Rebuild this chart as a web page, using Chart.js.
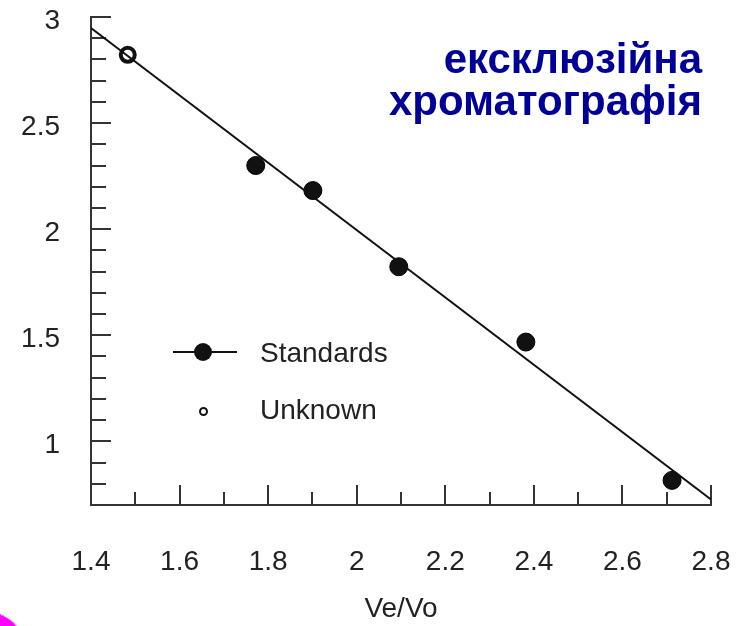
<!DOCTYPE html>
<html>
<head>
<meta charset="utf-8">
<script src="https://cdn.jsdelivr.net/npm/chart.js@4.4.1/dist/chart.umd.min.js"></script>
<style>
    body { margin: 0; background: #fff; }
    #wrap { position: relative; width: 741px; height: 626px; overflow: hidden; font-family: "Liberation Sans", Arial, sans-serif; }
    #title { position: absolute; right: 39px; top: 38px; text-align: right; font-weight: bold; font-size: 42px; line-height: 42px; color: #000096; }
    .leg { position: absolute; left: 260px; font-size: 28px; line-height: 1; color: #222; transform: translateY(-50%); }
    #legLine { position: absolute; left: 173px; top: 351px; width: 64px; height: 2px; background: #111; }
    #legDot { position: absolute; left: 194px; top: 343px; width: 18px; height: 18px; border-radius: 50%; background: #111; }
    #legOpen { position: absolute; left: 199px; top: 407px; width: 5px; height: 5px; border-radius: 50%; border: 2px solid #111; }
    #corner { position: absolute; left: -40px; top: 612px; width: 62px; height: 40px; border-radius: 50%; background: #ff00ff; transform: rotate(20deg); }
</style>
</head>
<body>
<div id="wrap">
    <canvas id="chart" width="741" height="626"></canvas>
    <div id="title">ексклюзійна<br>хроматографія</div>
    <div id="legLine"></div>
    <div id="legDot"></div>
    <div class="leg" style="top:353px">Standards</div>
    <div id="legOpen"></div>
    <div class="leg" style="top:410px">Unknown</div>
    <div id="corner"></div>
</div>
<script>
"use strict"

// Data
const standardsX = [1.772, 1.901, 2.095, 2.382, 2.712];
const standardsY = [2.30, 2.182, 1.823, 1.468, 0.816];
const unknownX = [1.483];
const unknownY = [2.822];
const fitX = [1.4, 2.8];
const fitY = [2.948, 0.726];

const xTicks = [1.4, 1.6, 1.8, 2.0, 2.2, 2.4, 2.6, 2.8];
const yTicks = [1, 1.5, 2, 2.5, 3];

function toPoints(xs, ys) {
    return xs.map((x, i) => ({ x: x, y: ys[i] }));
}

// Inward tick marks, drawn from the scales
const innerTicks = {
    id: 'innerTicks',
    beforeDatasetsDraw(chart) {
        const ctx = chart.ctx;
        const xs = chart.scales.x;
        const ys = chart.scales.y;
        const area = chart.chartArea;
        ctx.save();
        ctx.strokeStyle = '#333';
        ctx.lineWidth = 2;
        ctx.beginPath();
        // x: every 0.1, long every 0.2
        for (let i = 15; i <= 28; i++) {
            const px = Math.round(xs.getPixelForValue(i / 10));
            const len = (i % 2 === 0) ? 20 : 13;
            ctx.moveTo(px, area.bottom);
            ctx.lineTo(px, area.bottom - len);
        }
        // y: every 0.1, long every 0.5
        for (let i = 8; i <= 30; i++) {
            const py = Math.round(ys.getPixelForValue(i / 10));
            const len = (i % 5 === 0) ? 20 : 15;
            ctx.moveTo(area.left, py);
            ctx.lineTo(area.left + len, py);
        }
        ctx.stroke();
        ctx.restore();
    }
};

const font = { family: '"Liberation Sans", Arial, sans-serif', size: 28 };

new Chart(document.getElementById('chart'), {
    type: 'scatter',
    data: {
        datasets: [{
            type: 'line',
            label: 'fit',
            data: toPoints(fitX, fitY),
            borderColor: '#111',
            borderWidth: 2,
            pointRadius: 0,
            fill: false
        }, {
            label: 'Standards',
            data: toPoints(standardsX, standardsY),
            backgroundColor: '#111',
            borderColor: '#000',
            borderWidth: 1,
            pointRadius: 9,
            pointHoverRadius: 9
        }, {
            label: 'Unknown',
            data: toPoints(unknownX, unknownY),
            backgroundColor: 'rgba(0,0,0,0)',
            borderColor: '#111',
            borderWidth: 4,
            pointRadius: 7,
            pointHoverRadius: 7
        }]
    },
    options: {
        responsive: false,
        animation: false,
        events: [],
        layout: { padding: { top: 17, right: 30, left: 0, bottom: 0 } },
        plugins: {
            legend: { display: false },
            tooltip: { enabled: false }
        },
        scales: {
            x: {
                type: 'linear',
                min: 1.4,
                max: 2.8,
                afterBuildTicks: (s) => { s.ticks = xTicks.map((v) => ({ value: v })); },
                afterFit: (s) => { s.height = 121; s.paddingLeft = 0; s.paddingRight = 0; },
                grid: { display: false, drawTicks: false },
                border: { display: true, color: '#333', width: 2 },
                ticks: {
                    padding: 40,
                    color: '#222',
                    font: font,
                    maxRotation: 0,
                    autoSkip: false,
                    callback: (v) => (v === 2 ? '2' : String(v))
                },
                title: {
                    display: true,
                    text: 'Ve/Vo',
                    color: '#222',
                    font: font,
                    padding: { top: 0, bottom: 0 }
                }
            },
            y: {
                type: 'linear',
                min: 0.7,
                max: 3,
                afterBuildTicks: (s) => { s.ticks = yTicks.map((v) => ({ value: v })); },
                afterFit: (s) => { s.width = 91; s.paddingTop = 0; s.paddingBottom = 0; },
                grid: { display: false, drawTicks: false },
                border: { display: true, color: '#333', width: 2 },
                ticks: {
                    padding: 31,
                    labelOffset: 4,
                    color: '#222',
                    font: font,
                    autoSkip: false,
                    callback: (v) => String(v)
                }
            }
        }
    },
    plugins: [innerTicks]
});
</script>
</body>
</html>
